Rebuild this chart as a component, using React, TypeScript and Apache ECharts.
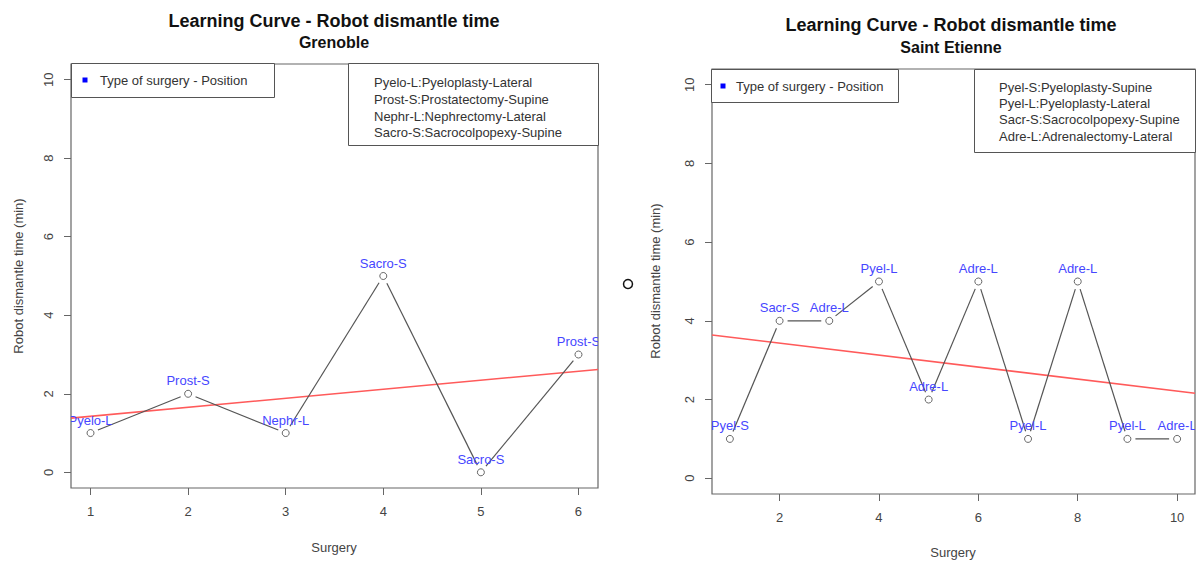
import React, { useEffect, useRef } from "react";
import * as echarts from "echarts";

const FONT = '"Liberation Sans", Arial, Helvetica, sans-serif';

// ---- Data ----
const leftX = [1, 2, 3, 4, 5, 6];
const leftY = [1, 2, 1, 5, 0, 3];
const leftLabels = ["Pyelo-L", "Prost-S", "Nephr-L", "Sacro-S", "Sacro-S", "Prost-S"];
const leftTrendX = [0.8, 6.2];
const leftTrendY = [1.38, 2.62];

const rightX = [1, 2, 3, 4, 5, 6, 7, 8, 9, 10];
const rightY = [1, 4, 4, 5, 2, 5, 1, 5, 1, 1];
const rightLabels = ["Pyel-S", "Sacr-S", "Adre-L", "Pyel-L", "Adre-L", "Adre-L", "Pyel-L", "Adre-L", "Pyel-L", "Adre-L"];
const rightTrendX = [0.64, 10.36];
const rightTrendY = [3.64, 2.16];

const leftXTicks = [1, 2, 3, 4, 5, 6];
const rightXTicks = [2, 4, 6, 8, 10];
const yTicks = [0, 2, 4, 6, 8, 10];

const mainTitle = "Learning Curve - Robot dismantle time";
const leftSub = "Grenoble";
const rightSub = "Saint Etienne";
const legendTitle = "Type of surgery - Position";
const leftLegend = [
  "Pyelo-L:Pyeloplasty-Lateral",
  "Prost-S:Prostatectomy-Supine",
  "Nephr-L:Nephrectomy-Lateral",
  "Sacro-S:Sacrocolpopexy-Supine",
];
const rightLegend = [
  "Pyel-S:Pyeloplasty-Supine",
  "Pyel-L:Pyeloplasty-Lateral",
  "Sacr-S:Sacrocolpopexy-Supine",
  "Adre-L:Adrenalectomy-Lateral",
];
const xTitle = "Surgery";
const yTitle = "Robot dismantle time (min)";

const FRAME = "#666";
const TICKTXT = "#444";
const LINE = "#555";
const LABEL = "#4646ff";

function segs(xs: number[], ys: number[]) {
  return xs.slice(1).map((x, i) => [xs[i], ys[i], x, ys[i + 1]]);
}

function xAxisCfg(gridIndex: number, min: number, max: number, ticks: number[]) {
  return {
    type: "value",
    gridIndex,
    min,
    max,
    axisLine: { show: false, onZero: false },
    splitLine: { show: false },
    axisTick: { show: true, inside: false, length: 7, customValues: ticks, lineStyle: { color: FRAME } },
    axisLabel: { customValues: ticks, margin: 17, color: TICKTXT, fontSize: 13, fontFamily: FONT },
  };
}

function yAxisCfg(gridIndex: number) {
  return {
    type: "value",
    gridIndex,
    min: -0.4,
    max: 10.4,
    axisLine: { show: false, onZero: false },
    splitLine: { show: false },
    axisTick: { show: true, inside: false, length: 7, customValues: yTicks, lineStyle: { color: FRAME } },
    axisLabel: { customValues: yTicks, rotate: 90, margin: 16, color: TICKTXT, fontSize: 13, fontFamily: FONT },
  };
}

function panelSeries(idx: number, xs: number[], ys: number[], labels: string[], tx: number[], ty: number[]) {
  return [
    {
      type: "line",
      xAxisIndex: idx,
      yAxisIndex: idx,
      data: tx.map((x, i) => [x, ty[i]]),
      symbol: "none",
      lineStyle: { color: "#ff5a5a", width: 1.6 },
      z: 2,
    },
    {
      type: "custom",
      xAxisIndex: idx,
      yAxisIndex: idx,
      data: segs(xs, ys),
      encode: { x: [0, 2], y: [1, 3] },
      renderItem: (params: any, api: any) => {
        const p0 = api.coord([api.value(0), api.value(1)]);
        const p1 = api.coord([api.value(2), api.value(3)]);
        const dx = p1[0] - p0[0];
        const dy = p1[1] - p0[1];
        const len = Math.hypot(dx, dy);
        const g = 8;
        if (len <= 2 * g) return null;
        const ux = dx / len;
        const uy = dy / len;
        return {
          type: "line",
          shape: { x1: p0[0] + ux * g, y1: p0[1] + uy * g, x2: p1[0] - ux * g, y2: p1[1] - uy * g },
          style: { stroke: LINE, lineWidth: 1.2 },
        };
      },
      z: 3,
    },
    {
      type: "scatter",
      xAxisIndex: idx,
      yAxisIndex: idx,
      data: xs.map((x, i) => [x, ys[i]]),
      symbol: "circle",
      symbolSize: 7,
      itemStyle: { color: "rgba(255,255,255,0)", borderColor: "#444", borderWidth: 1 },
      z: 4,
    },
    {
      type: "custom",
      xAxisIndex: idx,
      yAxisIndex: idx,
      clip: true,
      data: xs.map((x, i) => [x, ys[i]]),
      renderItem: (params: any, api: any) => {
        const p = api.coord([api.value(0), api.value(1)]);
        const cs = params.coordSys;
        return {
          type: "group",
          clipPath: { type: "rect", shape: { x: cs.x, y: cs.y, width: cs.width, height: cs.height } },
          children: [
            {
              type: "text",
              x: p[0],
              y: p[1] - 13,
              style: {
                text: labels[params.dataIndex],
                fill: LABEL,
                fontSize: 13,
                fontFamily: FONT,
                align: "center",
                verticalAlign: "middle",
              },
            },
          ],
        };
      },
      z: 5,
    },
  ];
}

function text(x: number, y: number, t: string, opts: any = {}) {
  return {
    type: "text",
    x,
    y,
    rotation: opts.rotation || 0,
    z: 100,
    style: {
      text: t,
      fill: opts.fill || "#333",
      fontSize: opts.fontSize || 13,
      fontWeight: opts.fontWeight || "normal",
      fontFamily: FONT,
      align: opts.align || "left",
      verticalAlign: "middle",
    },
  };
}

function rect(x: number, y: number, w: number, h: number) {
  return {
    type: "rect",
    z: 90,
    shape: { x: x + 0.5, y: y + 0.5, width: w, height: h },
    style: { fill: "#fff", stroke: "#555", lineWidth: 1 },
  };
}

function legendBlock(x0: number, y0: number, w: number, h: number, sqx: number, sqy: number, tx: number) {
  return [
    rect(x0, y0, w, h),
    { type: "rect", z: 95, shape: { x: sqx - 2.5, y: sqy - 2.5, width: 5, height: 5 }, style: { fill: "#0000ff" } },
    text(tx, sqy, legendTitle, { fill: "#333" }),
  ];
}

function legendLines(x0: number, y0: number, w: number, h: number, tx: number, ys: number[], lines: string[]) {
  return [rect(x0, y0, w, h), ...lines.map((l, i) => text(tx, ys[i], l, { fill: "#333" }))];
}

export default function App() {
  const ref = useRef<HTMLDivElement>(null);

  useEffect(() => {
    if (!ref.current) return;
    const chart = echarts.init(ref.current, undefined, { renderer: "svg" });
    const option: any = {
      animation: false,
      backgroundColor: "#ffffff",
      grid: [
        { left: 71, top: 64, width: 527, height: 424, show: true, borderColor: FRAME, borderWidth: 1.2, backgroundColor: "transparent" },
        { left: 712, top: 69, width: 483, height: 425, show: true, borderColor: FRAME, borderWidth: 1.2, backgroundColor: "transparent" },
      ],
      xAxis: [xAxisCfg(0, 0.8, 6.2, leftXTicks), xAxisCfg(1, 0.64, 10.36, rightXTicks)],
      yAxis: [yAxisCfg(0), yAxisCfg(1)],
      series: [
        ...panelSeries(0, leftX, leftY, leftLabels, leftTrendX, leftTrendY),
        ...panelSeries(1, rightX, rightY, rightLabels, rightTrendX, rightTrendY),
      ],
      graphic: [
        text(334, 21, mainTitle, { fill: "#111", fontSize: 18, fontWeight: "bold", align: "center" }),
        text(334, 42, leftSub, { fill: "#111", fontSize: 16, fontWeight: "bold", align: "center" }),
        text(951, 25, mainTitle, { fill: "#111", fontSize: 18, fontWeight: "bold", align: "center" }),
        text(951, 47, rightSub, { fill: "#111", fontSize: 16, fontWeight: "bold", align: "center" }),
        text(334, 547, xTitle, { fill: "#444", align: "center" }),
        text(953, 552, xTitle, { fill: "#444", align: "center" }),
        text(18, 276, yTitle, { fill: "#444", align: "center", rotation: Math.PI / 2 }),
        text(655, 281, yTitle, { fill: "#444", align: "center", rotation: Math.PI / 2 }),
        ...legendBlock(71, 63, 203, 34, 85, 80, 100),
        ...legendLines(348, 63, 250, 82, 374, [82, 99, 116, 132], leftLegend),
        ...legendBlock(711, 69, 187, 33, 723, 86, 736),
        ...legendLines(974, 69, 221, 83, 999, [87, 103, 119, 136], rightLegend),
        {
          type: "circle",
          z: 100,
          shape: { cx: 628, cy: 284, r: 4.5 },
          style: { fill: "none", stroke: "#111", lineWidth: 1.5 },
        },
      ],
    };
    chart.setOption(option);
    return () => chart.dispose();
  }, []);

  return (
    <div
      ref={ref}
      style={{ position: "absolute", left: 0, top: 0, width: 1198, height: 563, background: "#fff" }}
    />
  );
}
